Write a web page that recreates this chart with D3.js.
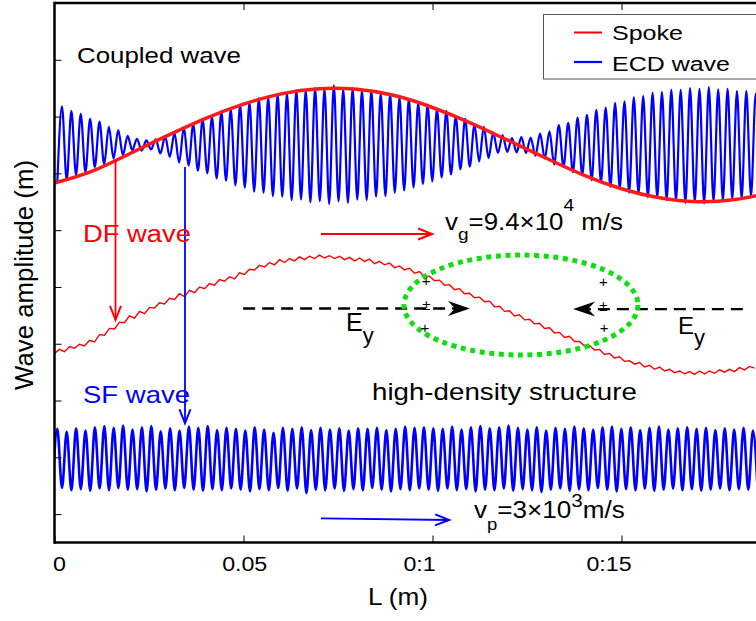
<!DOCTYPE html>
<html>
<head>
<meta charset="utf-8">
<script src="https://cdn.jsdelivr.net/npm/d3@7"></script>
<style>
  body { margin: 0; background: #fff; }
  svg { display: block; }
  text { font-family: "Liberation Sans", Arial, Helvetica, sans-serif; }
</style>
</head>
<body>
<svg id="chart" width="756" height="621"></svg>
<script>
// ---- data (L in m, amplitude in axis units) ----
const xTicks = [0, 0.05, 0.1, 0.15];
const xTickLabels = ['0', '0.05', '0:1', '0:15'];
const yTicks = [0.5, 1.5, 2.5, 3.5, 4.5, 5.5, 6.5, 7.5, 8.5];

// spoke, sampled every 0.01 m
const spokeL = [0, 0.01, 0.02, 0.03, 0.04, 0.05, 0.06, 0.07, 0.08, 0.09, 0.10, 0.11, 0.12, 0.13, 0.14, 0.15, 0.16, 0.17, 0.18, 0.19];
const spokeVals = [6.33, 6.54, 6.85, 7.17, 7.47, 7.72, 7.90, 7.99, 7.98, 7.87, 7.66, 7.39, 7.08, 6.77, 6.47, 6.23, 6.07, 6.00, 6.04, 6.17];

// ECD wave: successive crests / troughs
const ecdStart = 0.00198, ecdPeriod = 0.00248;
const ecdMax = [
  7.68, 7.60, 7.55, 7.46, 7.41, 7.32, 7.26, 7.16, 7.11, 7.08,
  7.10, 7.15, 7.21, 7.31, 7.36, 7.45, 7.50, 7.59, 7.63, 7.71,
  7.75, 7.82, 7.84, 7.90, 7.91, 7.96, 7.96, 8.00, 7.99, 8.05,
  7.99, 8.00, 7.96, 7.96, 7.91, 7.90, 7.84, 7.81, 7.74, 7.71,
  7.63, 7.60, 7.50, 7.46, 7.36, 7.32, 7.22, 7.17, 7.12, 7.14,
  7.13, 7.20, 7.24, 7.35, 7.39, 7.48, 7.53, 7.62, 7.66, 7.74,
  7.77, 7.84, 7.86, 7.92, 7.93, 7.97, 7.97, 8.00, 7.99, 8.02,
  7.98, 7.99, 7.95, 7.95, 7.90
];
const ecdMin = [
  6.33, 6.38, 6.47, 6.52, 6.61, 6.66, 6.76, 6.82, 6.91, 6.90,
  6.92, 6.85, 6.79, 6.69, 6.64, 6.55, 6.50, 6.41, 6.37, 6.29,
  6.25, 6.18, 6.16, 6.10, 6.09, 6.03, 6.04, 5.99, 6.01, 5.96,
  6.01, 5.98, 6.04, 6.03, 6.09, 6.10, 6.16, 6.20, 6.25, 6.31,
  6.36, 6.43, 6.48, 6.57, 6.62, 6.71, 6.77, 6.86, 6.88, 6.87,
  6.86, 6.81, 6.76, 6.66, 6.61, 6.52, 6.47, 6.38, 6.34, 6.26,
  6.23, 6.16, 6.14, 6.08, 6.07, 6.03, 6.02, 5.98, 6.00, 5.97,
  6.01, 6.02, 6.05, 6.06, 6.10, 6.12
];

// DF wave, sampled every dfStep
const dfStep = 0.0013228;
const dfVals = [
  3.33, 3.40, 3.36, 3.45, 3.42, 3.49, 3.46, 3.56, 3.53, 3.66,
  3.65, 3.77, 3.76, 3.88, 3.87, 3.99, 3.95, 4.07, 4.03, 4.14,
  4.13, 4.22, 4.20, 4.30, 4.28, 4.38, 4.33, 4.44, 4.40, 4.50,
  4.47, 4.56, 4.53, 4.63, 4.60, 4.68, 4.64, 4.75, 4.72, 4.81,
  4.80, 4.88, 4.85, 4.93, 4.89, 4.98, 4.93, 5.00, 4.96, 5.03,
  4.98, 5.04, 5.00, 5.06, 5.01, 5.05, 5.00, 5.04, 4.98, 5.02,
  4.96, 5.01, 4.95, 4.99, 4.91, 4.95, 4.89, 4.92, 4.84, 4.87,
  4.80, 4.83, 4.74, 4.77, 4.68, 4.69, 4.61, 4.62, 4.53, 4.54,
  4.45, 4.47, 4.38, 4.39, 4.31, 4.32, 4.24, 4.25, 4.15, 4.16,
  4.07, 4.08, 3.99, 4.01, 3.92, 3.93, 3.85, 3.86, 3.77, 3.78,
  3.69, 3.70, 3.61, 3.63, 3.54, 3.54, 3.46, 3.47, 3.39, 3.40,
  3.31, 3.33, 3.25, 3.27, 3.19, 3.20, 3.14, 3.17, 3.09, 3.12,
  3.05, 3.09, 3.02, 3.05, 2.99, 3.02, 2.97, 3.01, 2.96, 3.02,
  2.97, 3.02, 2.98, 3.04, 3.00, 3.05, 3.01, 3.08, 3.04, 3.10,
  3.07
];

// SF wave: successive crests / troughs
const sfStart = 0.00074, sfPeriod = 0.002487;
const sfMax = [
  2.00, 1.95, 2.01, 1.97, 2.03, 2.05, 2.02, 2.06, 1.99, 2.03,
  2.05, 1.96, 2.01, 1.97, 2.04, 2.02, 2.05, 1.98, 2.02, 2.00,
  1.97, 2.03, 1.99, 1.93, 2.02, 2.00, 2.03, 1.98, 2.02, 1.99,
  2.01, 1.97, 2.01, 2.00, 2.02, 1.98, 2.00, 2.04, 2.02, 2.03,
  2.01, 2.00, 2.04, 1.99, 2.03, 2.05, 2.01, 2.03, 2.06, 2.02,
  1.99, 2.03, 1.97, 2.02, 2.00, 2.04, 2.01, 1.99, 2.03, 2.04,
  2.00, 2.03, 1.98, 2.02, 2.04, 1.99, 2.01, 2.03, 2.00, 2.02,
  1.98, 2.01, 1.99, 2.02, 1.97
];
const sfMin = [
  0.93, 0.96, 0.92, 0.94, 0.91, 0.95, 0.92, 0.96, 0.93, 0.94,
  0.90, 0.93, 0.95, 0.92, 0.96, 0.93, 0.91, 0.94, 0.92, 0.95,
  0.93, 0.90, 0.94, 0.92, 0.96, 0.91, 0.95, 0.87, 0.93, 0.92,
  0.95, 0.91, 0.94, 0.92, 0.96, 0.93, 0.90, 0.94, 0.92, 0.95,
  0.93, 0.91, 0.95, 0.92, 0.94, 0.90, 0.93, 0.92, 0.95, 0.91,
  0.94, 0.92, 0.89, 0.93, 0.95, 0.91, 0.94, 0.92, 0.96, 0.93,
  0.90, 0.94, 0.92, 0.95, 0.91, 0.93, 0.95, 0.92, 0.94, 0.91,
  0.93, 0.95, 0.92, 0.94, 0.93, 0.92
];

// ---- chart ----
const svg = d3.select('#chart');
const x = d3.scaleLinear().domain([0, 0.18558]).range([54.5, 756]);
const y = d3.scaleLinear().domain([0, 9.5]).range([542.5, 3]);

svg.append('defs').append('clipPath').attr('id', 'plot')
  .append('rect').attr('x', x(0)).attr('y', y(9.5)).attr('width', 756 - x(0)).attr('height', y(0) - y(9.5));

const line = d3.line().x(d => x(d[0])).y(d => y(d[1]));

// crest/trough lists -> alternating points
const oscPoints = (start, period, maxs, mins) => {
  const pts = [];
  maxs.forEach((v, i) => {
    const c = start + i * period;
    pts.push([c - period / 2, mins[i]], [c, v]);
  });
  pts.push([start + (maxs.length - 0.5) * period, mins[maxs.length]]);
  return pts;
};

const plot = svg.append('g').attr('clip-path', 'url(#plot)');

// ECD wave
plot.append('path')
  .datum(oscPoints(ecdStart, ecdPeriod, ecdMax, ecdMin))
  .attr('fill', 'none')
  .attr('stroke', '#0000ff')
  .attr('stroke-width', 2.2)
  .attr('d', line.curve(d3.curveMonotoneX));

// Spoke
plot.append('path')
  .datum(spokeL.map((l, i) => [l, spokeVals[i]]))
  .attr('fill', 'none')
  .attr('stroke', '#ff1a1a')
  .attr('stroke-width', 3.5)
  .attr('d', d3.line().x(d => x(d[0])).y(d => y(d[1])).curve(d3.curveNatural));

// DF wave
plot.append('path')
  .datum(dfVals.map((v, i) => [i * dfStep, v]))
  .attr('fill', 'none')
  .attr('stroke', '#ff0000')
  .attr('stroke-width', 1.4)
  .attr('d', d3.line().x(d => x(d[0])).y(d => y(d[1])));

// SF wave
plot.append('path')
  .datum(oscPoints(sfStart, sfPeriod, sfMax, sfMin))
  .attr('fill', 'none')
  .attr('stroke', '#0000ff')
  .attr('stroke-width', 2.6)
  .attr('d', d3.line().x(d => x(d[0])).y(d => y(d[1])).curve(d3.curveMonotoneX));

// ---- axes ----
const gx = svg.append('g')
  .attr('transform', `translate(0,${y(0)})`)
  .call(d3.axisBottom(x).tickValues(xTicks).tickSizeInner(-7).tickSizeOuter(0)
    .tickFormat((d, i) => xTickLabels[i]));
gx.select('.domain').remove();
gx.attr('font-family', null).attr('font-size', null);
const labelShift = [4.5, 0.7, -13.5, -13];
gx.selectAll('.tick text')
  .attr('font-size', 19.5)
  .attr('fill', '#000')
  .attr('y', 29)
  .attr('dy', null)
  .attr('x', (d, i) => labelShift[i] / 1.19)
  .attr('transform', 'scale(1.19,1)');

const gt = svg.append('g')
  .attr('transform', `translate(0,${y(9.5)})`)
  .call(d3.axisTop(x).tickValues(xTicks.slice(1)).tickSizeInner(-7).tickSizeOuter(0).tickFormat(''));
gt.select('.domain').remove();

const gy = svg.append('g')
  .attr('transform', `translate(${x(0)},0)`)
  .call(d3.axisLeft(y).tickValues(yTicks).tickSizeInner(-7).tickSizeOuter(0).tickFormat(''));
gy.select('.domain').remove();

svg.selectAll('.tick line').attr('stroke', '#000').attr('stroke-width', 1);

// spines
const spine = svg.append('g').attr('stroke', '#000').attr('stroke-width', 2.5);
spine.append('line').attr('x1', x(0)).attr('x2', x(0)).attr('y1', y(9.5) - 1.2).attr('y2', y(0) + 1.2);
spine.append('line').attr('x1', x(0)).attr('x2', 756).attr('y1', y(9.5)).attr('y2', y(9.5));
spine.append('line').attr('x1', x(0)).attr('x2', 756).attr('y1', y(0)).attr('y2', y(0));

// ---- annotations ----
const annot = svg.append('g');

const addText = (parent, parts, x0, y0, size, color, width) => {
  const t = parent.append('text').attr('x', x0).attr('y', y0)
    .attr('font-size', size).attr('fill', color);
  parts.forEach(p => t.append('tspan')
    .attr('dy', p.dy || 0)
    .attr('font-size', p.size || size)
    .text(p.t));
  if (width) {
    const b = t.node().getBBox();
    const s = width / b.width;
    t.attr('transform', `translate(${b.x},0) scale(${s},1) translate(${-b.x},0)`);
  }
  return t;
};

// open (chevron) arrow in data coords
const chevronArrow = (p0, p1, color) => {
  const a = [x(p0[0]), y(p0[1])], b = [x(p1[0]), y(p1[1])];
  const ang = Math.atan2(b[1] - a[1], b[0] - a[0]);
  const len = 14, half = 5.5;
  const back = [b[0] - len * Math.cos(ang), b[1] - len * Math.sin(ang)];
  const nx = -Math.sin(ang) * half, ny = Math.cos(ang) * half;
  annot.append('line').attr('x1', a[0]).attr('y1', a[1]).attr('x2', b[0]).attr('y2', b[1])
    .attr('stroke', color).attr('stroke-width', 1.8);
  annot.append('path')
    .attr('d', `M${back[0] + nx},${back[1] + ny}L${b[0]},${b[1]}L${back[0] - nx},${back[1] - ny}`)
    .attr('fill', 'none').attr('stroke', color).attr('stroke-width', 2);
};

// dashed E-field line with filled head at p1
const dashedArrow = (p0, p1) => {
  const a = [x(p0[0]), y(p0[1])], b = [x(p1[0]), y(p1[1])];
  const dir = Math.sign(b[0] - a[0]);
  annot.append('line').attr('x1', a[0]).attr('y1', a[1]).attr('x2', b[0] - dir * 14).attr('y2', b[1])
    .attr('stroke', '#000').attr('stroke-width', 2.4).attr('stroke-dasharray', '12,7');
  annot.append('path')
    .attr('d', `M${b[0]},${b[1]}L${b[0] - dir * 22},${b[1] - 7.5}L${b[0] - dir * 15},${b[1]}L${b[0] - dir * 22},${b[1] + 7.5}Z`)
    .attr('fill', '#000');
};

chevronArrow([0.01614, 6.735], [0.01614, 3.92], '#ff0000');
chevronArrow([0.03452, 6.612], [0.03452, 2.10], '#0000ff');
chevronArrow([0.0705, 5.432], [0.0999, 5.432], '#ff0000');
chevronArrow([0.0705, 0.426], [0.1044, 0.396], '#0000ff');

dashedArrow([0.0499, 4.12], [0.1099, 4.12]);
dashedArrow([0.1821, 4.11], [0.1372, 4.11]);

// high-density region
annot.append('ellipse')
  .attr('cx', x(0.1234)).attr('cy', y(4.182))
  .attr('rx', x(0.1234 + 0.03095) - x(0.1234))
  .attr('ry', y(4.182) - y(4.182 + 0.88))
  .attr('fill', 'none').attr('stroke', '#11dd11')
  .attr('stroke-width', 5).attr('stroke-dasharray', '5,4.6');

const charges = [
  [0.0983, 4.605, '+'], [0.0984, 4.18, '±'], [0.0980, 3.79, '+'],
  [0.1452, 4.596, '+'], [0.1452, 4.165, '±'], [0.1454, 3.79, '+']
];
annot.selectAll('text.q').data(charges).enter().append('text')
  .attr('class', 'q')
  .attr('x', d => x(d[0])).attr('y', d => y(d[1]))
  .attr('dy', '0.35em').attr('text-anchor', 'middle')
  .attr('font-size', 15).attr('fill', '#000')
  .text(d => d[2]);

addText(annot, [{ t: 'Coupled wave' }], 77, 63, 22, '#000', 164);
addText(annot, [{ t: 'DF wave' }], 83, 242, 23, '#ff0000', 108);
addText(annot, [{ t: 'SF wave' }], 83, 403, 23, '#0000ff', 107);
addText(annot, [{ t: 'high-density structure' }], 372, 400, 23, '#000', 265);
addText(annot, [{ t: 'v' }, { t: 'g', size: 17, dy: 10 }, { t: '=9.4×10', dy: -10 },
  { t: '4', size: 17, dy: -19 }, { t: ' m/s', dy: 19 }], 445, 230, 23, '#000', 178);
addText(annot, [{ t: 'v' }, { t: 'p', size: 17, dy: 12 }, { t: '=3×10', dy: -12 },
  { t: '3', size: 19, dy: -11 }, { t: 'm/s', dy: 11 }], 474, 518, 24, '#000', 151);
addText(annot, [{ t: 'E' }, { t: 'y', size: 22, dy: 12 }], 346, 331, 25, '#000');
addText(annot, [{ t: 'E' }, { t: 'y', size: 22, dy: 11 }], 678, 334, 24, '#000');
addText(annot, [{ t: 'L (m)' }], 368, 605, 24, '#000', 60);

// y axis title
annot.append('text')
  .attr('transform', 'translate(33,275) rotate(-90)')
  .attr('text-anchor', 'middle')
  .attr('font-size', 26)
  .attr('textLength', 230)
  .attr('lengthAdjust', 'spacingAndGlyphs')
  .attr('fill', '#000')
  .text('Wave amplitude (m)');

// legend
const legend = svg.append('g');
legend.append('rect').attr('x', 543.5).attr('y', 14.5).attr('width', 230).attr('height', 64.5)
  .attr('fill', '#fff').attr('stroke', '#555').attr('stroke-width', 1);
legend.append('line').attr('x1', 574).attr('x2', 602).attr('y1', 32.5).attr('y2', 32.5)
  .attr('stroke', '#ff0000').attr('stroke-width', 2);
legend.append('line').attr('x1', 574).attr('x2', 602).attr('y1', 62).attr('y2', 62)
  .attr('stroke', '#0000ff').attr('stroke-width', 2.2);
addText(legend, [{ t: 'Spoke' }], 612, 40, 21, '#000', 71);
addText(legend, [{ t: 'ECD wave' }], 612, 71, 21, '#000', 118);
</script>
</body>
</html>
